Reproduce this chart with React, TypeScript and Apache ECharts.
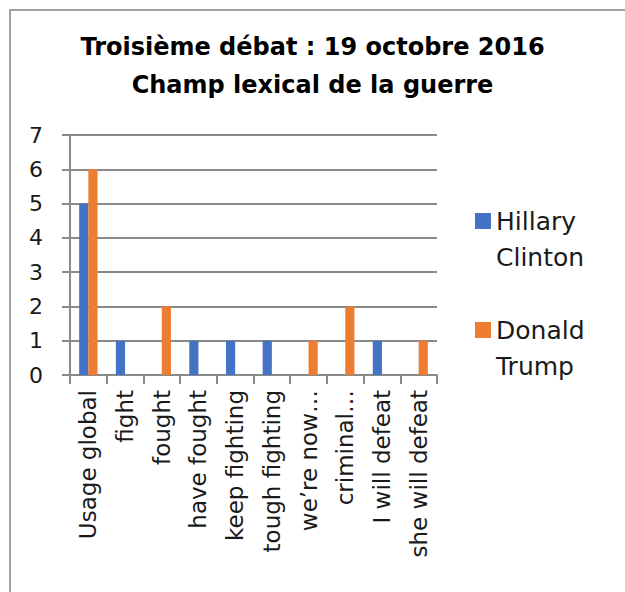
import React, { useEffect, useRef } from 'react';
import * as echarts from 'echarts';

const categories = [
  'Usage global',
  'fight',
  'fought',
  'have fought',
  'keep fighting',
  'tough fighting',
  'we\u2019re now\u2026',
  'criminal\u2026',
  'I will defeat',
  'she will defeat',
];
const clintonValues = [5, 1, 0, 1, 1, 1, 0, 0, 1, 0];
const trumpValues = [6, 0, 2, 0, 0, 0, 1, 2, 0, 1];
const seriesNames = ['Hillary Clinton', 'Donald Trump'];
const titleLines = ['Troisième débat : 19 octobre 2016', 'Champ lexical de la guerre'];

const FONT = 'DejaVu Sans';
const GRAY = '#8a8a8a';
const TEXT = '#1a1a1a';

export default function App() {
  const ref = useRef<HTMLDivElement>(null);
  useEffect(() => {
    document.body.style.margin = '0';
    if (!ref.current) return;
    const chart = echarts.init(ref.current, null, { renderer: 'svg' });
    const legendIcon =
      'path://M0,10L16,10L16,26L0,26Z M0,0L0.01,0L0.01,0.01L0,0.01Z M0,71.99L0.01,71.99L0.01,72L0,72Z';
    chart.setOption({
      animation: false,
      backgroundColor: '#ffffff',
      title: {
        text: titleLines.join('\n'),
        left: 'center',
        top: 28,
        padding: 0,
        textStyle: {
          fontFamily: FONT,
          fontSize: 24,
          fontWeight: 'bold',
          color: '#000',
          lineHeight: 38,
        },
      },
      legend: {
        orient: 'vertical',
        left: 475,
        top: 203,
        padding: 0,
        itemGap: 37,
        itemWidth: 16,
        itemHeight: 72,
        icon: legendIcon,
        formatter: (name: string) => name.replace(' ', '\n'),
        textStyle: {
          fontFamily: FONT,
          fontSize: 25,
          color: TEXT,
          lineHeight: 36,
        },
        data: seriesNames,
      },
      grid: { left: 70, right: 188, top: 135, bottom: 217 },
      xAxis: {
        type: 'category',
        data: categories,
        axisLine: { show: true, lineStyle: { color: GRAY, width: 2 } },
        axisTick: { show: true, length: 9, lineStyle: { color: GRAY, width: 2 } },
        axisLabel: {
          rotate: 90,
          interval: 0,
          margin: 15,
          fontFamily: FONT,
          fontSize: 23,
          color: TEXT,
        },
      },
      yAxis: {
        type: 'value',
        min: 0,
        max: 7,
        interval: 1,
        axisLine: { show: true, lineStyle: { color: GRAY, width: 2 } },
        axisTick: { show: true, length: 8, lineStyle: { color: GRAY, width: 2 } },
        splitLine: { show: true, lineStyle: { color: GRAY, width: 2 } },
        axisLabel: {
          margin: 27,
          fontFamily: FONT,
          fontSize: 22,
          color: TEXT,
        },
      },
      series: [
        {
          name: seriesNames[0],
          type: 'bar',
          data: clintonValues,
          barGap: '0%',
          barCategoryGap: '50%',
          itemStyle: { color: '#4472C4' },
        },
        {
          name: seriesNames[1],
          type: 'bar',
          data: trumpValues,
          barGap: '0%',
          barCategoryGap: '50%',
          itemStyle: { color: '#ED7D31' },
        },
      ],
      graphic: [
        {
          type: 'rect',
          silent: true,
          shape: { x: 10, y: 10, width: 800, height: 800 },
          style: { fill: 'none', stroke: '#a0a0a0', lineWidth: 2 },
        },
      ],
    });
    return () => chart.dispose();
  }, []);
  return <div ref={ref} style={{ width: 625, height: 592 }} />;
}
